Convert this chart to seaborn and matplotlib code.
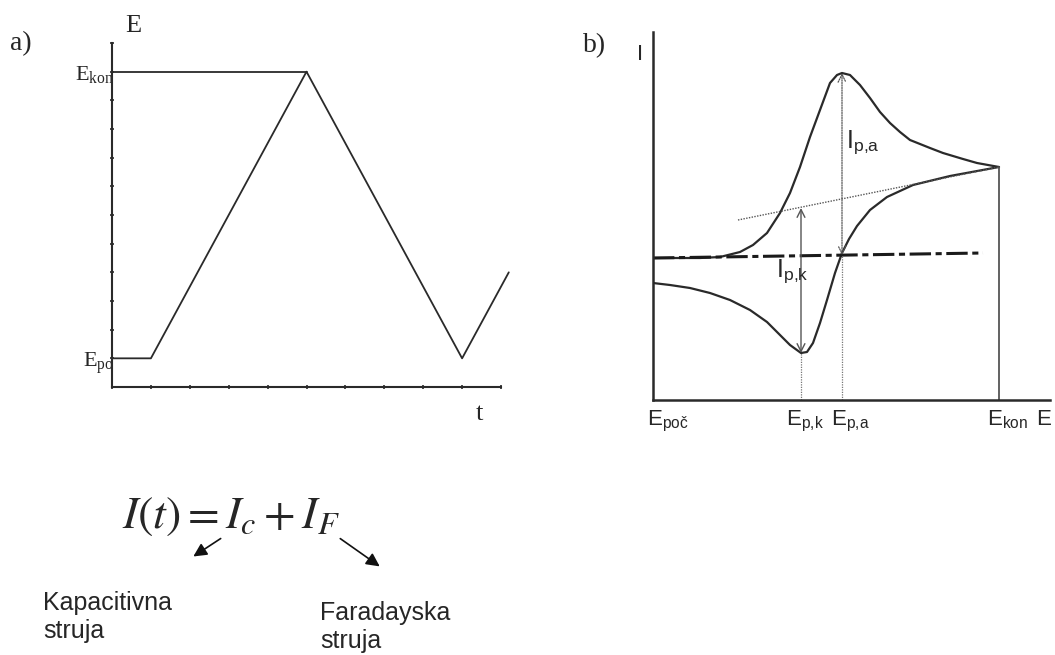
import matplotlib
matplotlib.use("Agg")
import matplotlib.pyplot as plt
import seaborn as sns

# panel a: potential sweep (t in tick units, E in tick units)
SWEEP_T = [0, 1, 5, 9, 10.2]
SWEEP_E = [1, 1, 11, 1, 4]
E_KON_LEVEL = 11
E_PO_LEVEL = 1

# panel b: cyclic voltammogram (arbitrary units)
FWD_E = [0, 47, 67, 87, 100, 114, 127, 137, 147, 157, 167, 177, 184, 189, 197, 207, 217, 227, 237, 247,
         257, 277, 290, 310, 324, 346]
FWD_I = [142, 142, 143, 148, 155, 167, 187, 207, 233, 263, 290, 317, 325, 327, 325, 315, 302, 288, 277, 268,
         260, 252, 247, 241, 237, 233]
REV_E = [346, 297, 260, 234, 217, 204, 196, 189, 182, 174, 167, 160, 154, 148, 137, 127, 114, 97, 77, 57,
         37, 17, 0]
REV_I = [233, 224, 215, 203, 190, 174, 161, 147, 127, 100, 77, 57, 48, 47, 55, 65, 78, 90, 100, 107,
         112, 115, 117]
BASE_E = [0, 330]
BASE_I = [142, 147]
SLOPE_E = [85, 346]
SLOPE_I = [180, 233]
E_PK, E_PA, E_KON = 148, 189, 346
I_PK_LOW, I_PK_HIGH = 47, 192
I_PA_LOW, I_PA_HIGH = 145, 327

W, H = 1055, 655

sns.set_style("white")
plt.rcParams["mathtext.fontset"] = "stix"
fig = plt.figure(figsize=(W / 100, H / 100), dpi=100)


def px_axes(left, top, right, bottom):
    return fig.add_axes([left / W, 1 - bottom / H, (right - left) / W, (bottom - top) / H])


serif = "Liberation Serif"
sans = "Liberation Sans"
ink = "#2a2a2a"

# ---------- panel a ----------
ax_a = px_axes(112, 43, 501, 387)
sns.lineplot(x=SWEEP_T, y=SWEEP_E, sort=False, estimator=None, ax=ax_a, color=ink, lw=1.3, clip_on=False)
ax_a.plot([0, SWEEP_T[2]], [E_KON_LEVEL, E_KON_LEVEL], color=ink, lw=1.3)
ax_a.set_xlim(0, 10)
ax_a.set_ylim(0, 12)
for side in ("top", "right"):
    ax_a.spines[side].set_visible(False)
for side in ("left", "bottom"):
    ax_a.spines[side].set_color(ink)
    ax_a.spines[side].set_linewidth(1.5)
ax_a.set_xticks(range(0, 11))
ax_a.set_xticklabels([])
ax_a.set_yticks(range(1, 13))
ax_a.set_yticklabels(["E$_{\\mathregular{po}}$" if v == E_PO_LEVEL else ("E$_{\\mathregular{kon}}$" if v == E_KON_LEVEL else "")
                      for v in range(1, 13)], family=serif, fontsize=16)
ax_a.tick_params(bottom=True, left=True, direction="inout", length=3, width=1.2, color=ink, pad=-3)
ax_a.text(0.033, 1.032, "E", transform=ax_a.transAxes, fontsize=19, family=serif, va="baseline", ha="left")
ax_a.set_xlabel("")
ax_a.set_ylabel("")

# ---------- panel b ----------
ax_b = px_axes(653, 32, 1050, 400)
sns.lineplot(x=FWD_E, y=FWD_I, sort=False, estimator=None, ax=ax_b, color=ink, lw=1.6,
             solid_joinstyle="round")
sns.lineplot(x=REV_E, y=REV_I, sort=False, estimator=None, ax=ax_b, color=ink, lw=1.6,
             solid_joinstyle="round")
ax_b.plot(BASE_E, BASE_I, color="#1a1a1a", lw=2.2, linestyle=(0, (7, 1.5, 2, 1.5)))
ax_b.plot(SLOPE_E, SLOPE_I, color="#555555", lw=1.0, linestyle=(0, (1, 1)))
ax_b.plot([E_KON, E_KON], [0, SLOPE_I[1]], color="#555555", lw=1.3)
ax_b.plot([E_PK, E_PK], [0, I_PK_LOW], color="#777777", lw=0.9, linestyle=(0, (1, 1)))
ax_b.plot([E_PA, E_PA], [0, I_PA_LOW], color="#777777", lw=0.9, linestyle=(0, (1, 1)))
ax_b.annotate("", xy=(E_PA, I_PA_HIGH), xytext=(E_PA, I_PA_LOW),
              arrowprops=dict(arrowstyle="<->", color="#555555", lw=0.9, linestyle=(0, (1, 1)),
                              shrinkA=0, shrinkB=0, mutation_scale=14))
ax_b.annotate("", xy=(E_PK, I_PK_HIGH), xytext=(E_PK, I_PK_LOW),
              arrowprops=dict(arrowstyle="<->", color="#555555", lw=1.0, shrinkA=0, shrinkB=0,
                              mutation_scale=14))
ax_b.text(193, 252, "I$_{\\mathregular{p{,}a}}$", fontsize=18, family=sans, va="baseline", ha="left")
ax_b.text(123, 123, "I$_{\\mathregular{p{,}k}}$", fontsize=18, family=sans, va="baseline", ha="left")
ax_b.set_xlim(0, 397)
ax_b.set_ylim(0, 368)
for side in ("top", "right"):
    ax_b.spines[side].set_visible(False)
for side in ("left", "bottom"):
    ax_b.spines[side].set_color("#2a2a2a")
    ax_b.spines[side].set_linewidth(1.8)
ax_b.set_xticks([])
ax_b.set_yticks([])
ax_b.set_xlabel("")
ax_b.set_ylabel("")
for xv, txt in [(-6, "E$_{\\mathregular{poč}}$"), (133, "E$_{\\mathregular{p{,}k}}$"),
                (178, "E$_{\\mathregular{p{,}a}}$"), (334, "E$_{\\mathregular{kon}}$"), (383, "E")]:
    ax_b.text(xv, -25, txt, fontsize=16, family=sans, va="baseline", ha="left")
ax_b.text(-13, 340, "I", fontsize=16, family=sans, va="baseline", ha="center")

# ---------- overlay: panel letters, formula, notes ----------
ov = fig.add_axes([0, 0, 1, 1], facecolor="none")
ov.set_xlim(0, W)
ov.set_ylim(H, 0)
ov.axis("off")
ov.text(10, 50, "a)", fontsize=20, family=serif, va="baseline", ha="left")
ov.text(583, 52, "b)", fontsize=20, family=serif, va="baseline", ha="left")
ov.text(476, 420, "t", fontsize=19, family=serif, va="baseline", ha="left")
ov.text(231, 528, "$I(t) = I_c + I_F$", fontsize=33, va="baseline", ha="center")
ov.annotate("", xy=(191, 558), xytext=(223, 537),
            arrowprops=dict(arrowstyle="-|>", color="#111111", lw=1.2, mutation_scale=20))
ov.annotate("", xy=(382, 568), xytext=(338, 537),
            arrowprops=dict(arrowstyle="-|>", color="#111111", lw=1.2, mutation_scale=20))
ov.text(43, 610, "Kapacitivna", fontsize=18, family=sans, va="baseline", ha="left")
ov.text(43, 638, "struja", fontsize=18, family=sans, va="baseline", ha="left")
ov.text(320, 620, "Faradayska", fontsize=18, family=sans, va="baseline", ha="left")
ov.text(320, 648, "struja", fontsize=18, family=sans, va="baseline", ha="left")

fig.savefig("out.png", dpi=100)
